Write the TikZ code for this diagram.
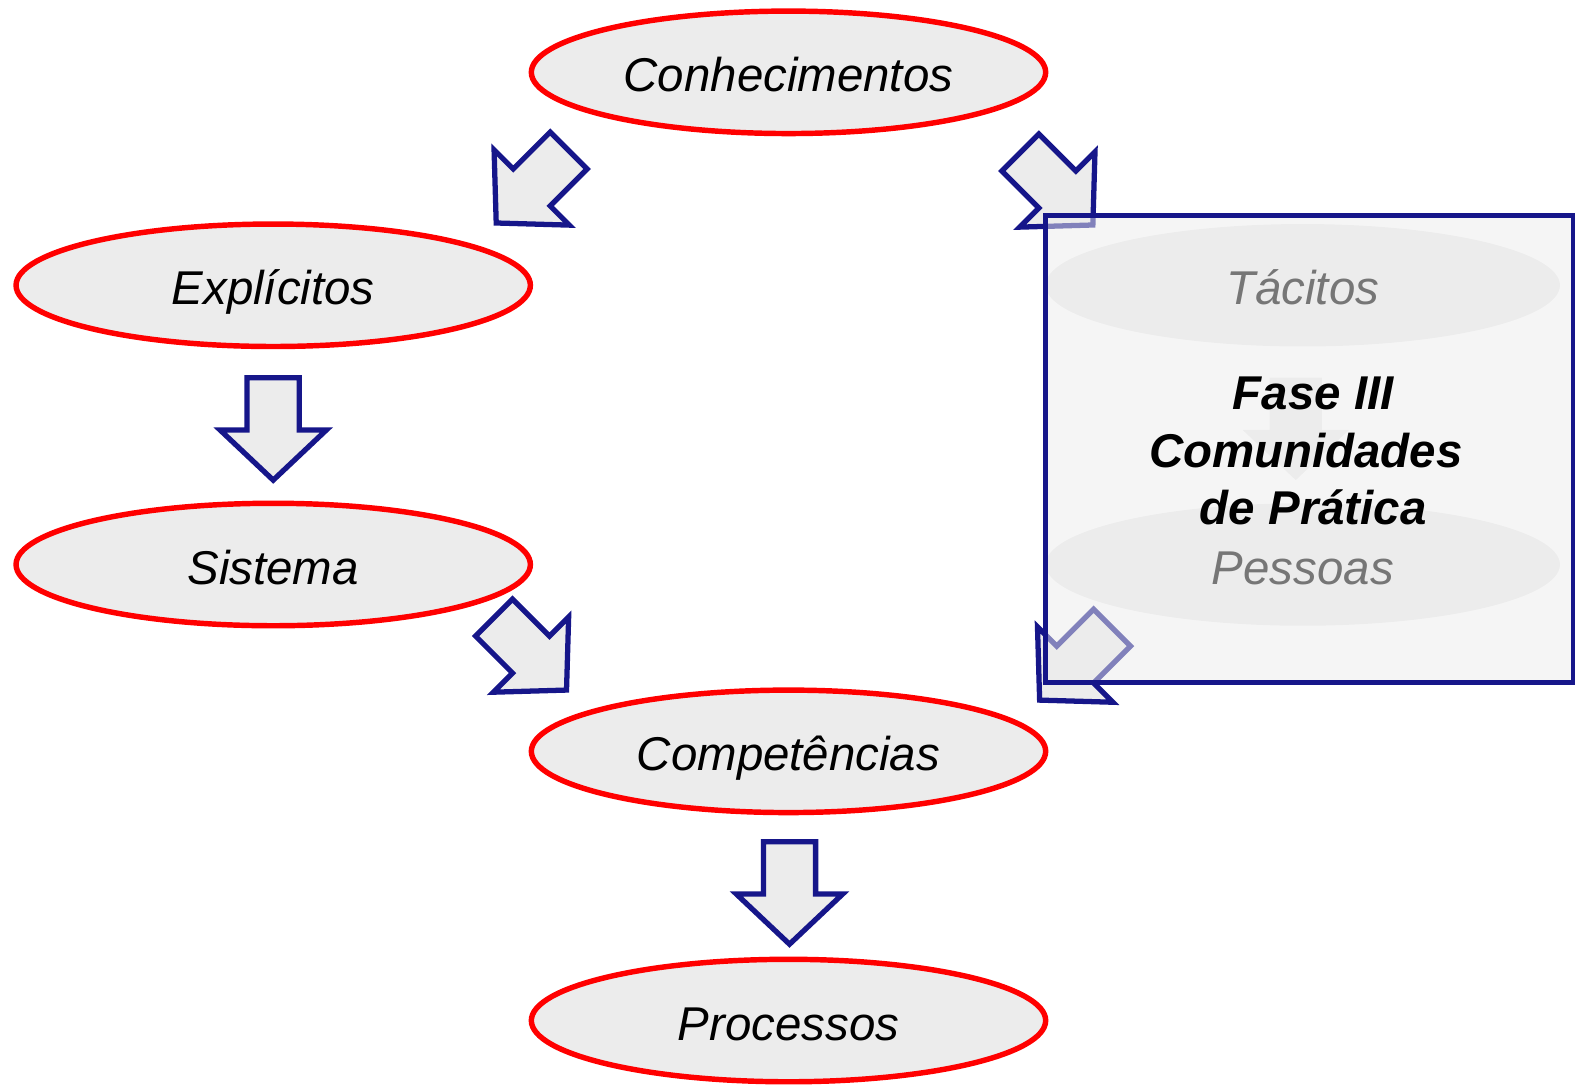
\documentclass[tikz,border=0pt]{standalone}
\usepackage{fontspec}
\setmainfont{Liberation Sans}
\usetikzlibrary{shapes.geometric}

\definecolor{navyline}{HTML}{16168A}
\definecolor{shapegray}{HTML}{ECECEC}

\begin{document}
\begin{tikzpicture}[
  x=0.020089cm,
  y=-0.020089cm,
  line join=miter,
  stage/.style={ellipse, draw=red, line width=3.1pt, fill=shapegray,
    minimum width=10.29cm, minimum height=2.45cm, inner sep=0pt,
    text height=24pt, text depth=1.8pt,
    font=\fontsize{27}{32}\selectfont\itshape},
  hiddenstage/.style={stage, draw=none},
  arrowbox/.style={draw=navyline, fill=shapegray, line width=3pt},
  blkarrow/.pic={
    \path[pic actions] (0,0) -- (53,-50) -- (26,-50) -- (26,-102)
      -- (-26,-102) -- (-26,-50) -- (-53,-50) -- cycle;
  }
]

\useasboundingbox (0,0) rectangle (1568,1080);

% ---------- stages ----------
\node[stage] (know) at (785,72)   {Conhecimentos};
\node[stage] (expl) at (272,284)  {Explícitos};
\node[stage] (sist) at (272,562)  {Sistema};
\node[stage] (comp) at (785,748)  {Competências};
\node[stage] (proc) at (785,1016) {Processos};

% ---------- tacit side (under the phase box) ----------
\node[hiddenstage] (tac)  at (1297,284) {Tácitos};
\node[hiddenstage] (pess) at (1297,562) {Pessoas};
\pic[fill=shapegray] at (1290,478) {blkarrow};

% ---------- block arrows ----------
\foreach \tx/\ty/\ang in {494/222/-45, 1088/224/45, 564/687/45, 1035/697/-45,
                          272/478/0, 786/940/0}{
  \pic[arrowbox, rotate=\ang] at (\tx,\ty) {blkarrow};
}

% ---------- phase box ----------
\node[draw=navyline, line width=2.8pt, fill=shapegray, fill opacity=0.5,
      minimum width=10.55cm, minimum height=9.36cm, inner sep=0pt]
      (fase) at (1303.5,447) {};
\node[align=center, font=\fontsize{27}{32.7}\selectfont\bfseries\itshape]
      (fasetxt) at (1300,449)
      {\hspace*{0.3cm}Fase III\\Comunidades\\\hspace*{0.3cm}de Prática};

\end{tikzpicture}
\end{document}
